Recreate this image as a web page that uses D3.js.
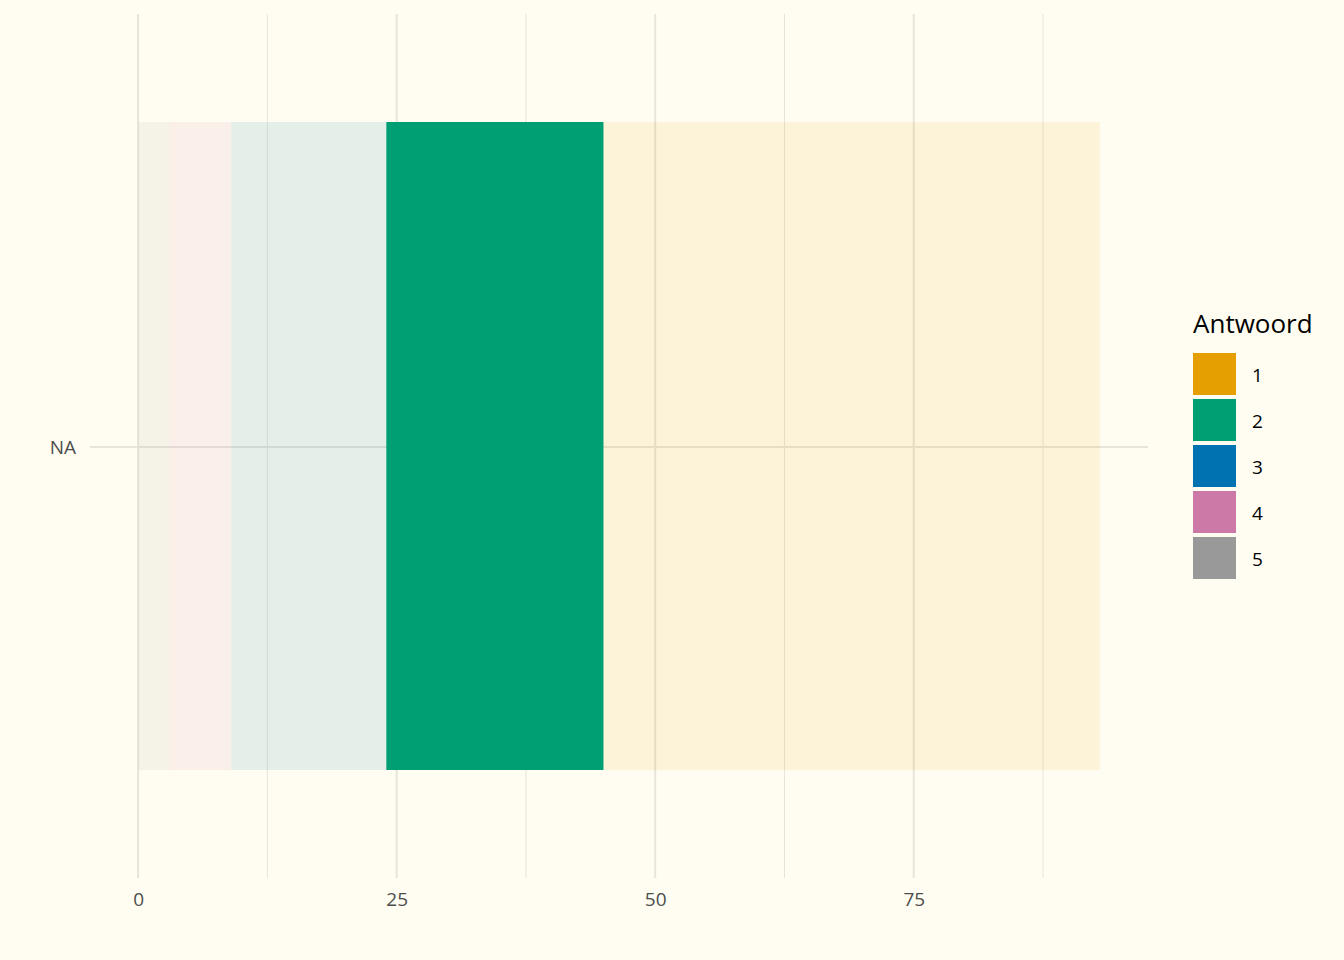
<!DOCTYPE html>
<html>
<head>
<meta charset="utf-8">
<script src="https://cdn.jsdelivr.net/npm/d3@7"></script>
<style>
  html, body { margin: 0; padding: 0; background: #fffdf1; }
  svg { display: block; font-family: "Open Sans", "Noto Sans", sans-serif; }
</style>
</head>
<body>
<svg id="chart" width="1344" height="960"></svg>
<script>
// Data
const categories = ["NA"];
const answers = ["1", "2", "3", "4", "5"];
const stackOrder = ["5", "4", "3", "2", "1"];
const values = { "1": [48], "2": [21], "3": [15], "4": [6], "5": [3] };
const colors = ["#E69F00", "#009E73", "#0072B2", "#CC79A7", "#999999"];
const highlighted = "2";
const xTicks = [0, 25, 50, 75];
const xMinor = [12.5, 37.5, 62.5, 87.5];

const svg = d3.select("#chart");
const panel = { left: 90, right: 1148, top: 14, bottom: 878 };

const rows = categories.map((c, i) => {
  const r = { cat: c };
  answers.forEach(a => r[a] = values[a][i]);
  return r;
});

const stack = d3.stack().keys(stackOrder);
const series = stack(rows);
const total = d3.max(series, s => d3.max(s, d => d[1]));
const pad = total * 0.05;

const x = d3.scaleLinear().domain([-pad, total + pad]).range([panel.left, panel.right]);
const y = d3.scaleBand().domain(categories).range([panel.top, panel.bottom])
  .paddingInner(0).paddingOuter(0);
const yc = c => y(c) + y.bandwidth() / 2;
const barH = (panel.bottom - panel.top) * 0.9 / 1.2;

const color = d3.scaleOrdinal().domain(answers).range(colors);

// grid
const gridColor = "#e7e5da";
svg.append("g").selectAll("line.minor").data(xMinor).join("line")
  .attr("x1", d => x(d)).attr("x2", d => x(d))
  .attr("y1", panel.top).attr("y2", panel.bottom)
  .attr("stroke", gridColor).attr("stroke-width", 1);
svg.append("g").selectAll("line.major").data(xTicks).join("line")
  .attr("x1", d => x(d)).attr("x2", d => x(d))
  .attr("y1", panel.top).attr("y2", panel.bottom)
  .attr("stroke", gridColor).attr("stroke-width", 2);
svg.append("g").selectAll("line.hy").data(categories).join("line")
  .attr("x1", panel.left).attr("x2", panel.right)
  .attr("y1", d => yc(d) + 1).attr("y2", d => yc(d) + 1)
  .attr("stroke", gridColor).attr("stroke-width", 2);

// bars
svg.append("g").selectAll("g").data(series).join("g")
  .attr("fill", s => color(s.key))
  .attr("fill-opacity", s => s.key === highlighted ? 1 : 0.1)
  .selectAll("rect").data(s => s).join("rect")
  .attr("x", d => x(d[0]))
  .attr("width", d => x(d[1]) - x(d[0]))
  .attr("y", d => yc(d.data.cat) - barH / 2)
  .attr("height", barH);

// axes
const xAxis = d3.axisBottom(x).tickValues(xTicks).tickSize(0).tickPadding(15);
const gx = svg.append("g").attr("transform", `translate(0,${panel.bottom})`).call(xAxis);
gx.select(".domain").remove();
gx.selectAll("text").attr("fill", "#4d4d4d").attr("font-size", 19).attr("font-family", "Open Sans");

const yAxis = d3.axisLeft(y).tickSize(0).tickPadding(14);
const gy = svg.append("g").attr("transform", `translate(${panel.left},2)`).call(yAxis);
gy.select(".domain").remove();
gy.selectAll("text").attr("fill", "#4d4d4d").attr("font-size", 19).attr("font-family", "Open Sans");

// legend
const lg = svg.append("g").attr("transform", "translate(1193,310)");
lg.append("text").attr("x", 0).attr("y", 23).attr("font-size", 26).attr("fill", "#000").text("Antwoord");
const items = lg.selectAll("g.item").data(answers).join("g")
  .attr("transform", (d, i) => `translate(0,${43 + i * 46})`);
items.append("rect").attr("width", 43).attr("height", 42).attr("fill", d => color(d));
items.append("text").attr("x", 59).attr("y", 22).attr("dy", "0.35em")
  .attr("font-size", 19).attr("fill", "#000").text(d => d);
</script>
</body>
</html>
